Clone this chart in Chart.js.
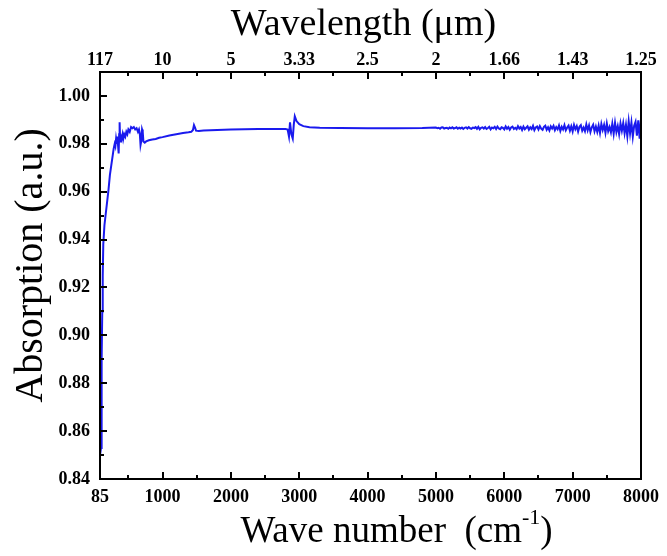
<!DOCTYPE html>
<html>
<head>
<meta charset="utf-8">
<title>Absorption spectrum</title>
<script src="https://cdn.jsdelivr.net/npm/chart.js@4/dist/chart.umd.min.js"></script>
<style>
  html, body { margin: 0; padding: 0; background: #fff; }
  canvas { display: block; }
</style>
</head>
<body>
<canvas id="spectrum" width="667" height="556"></canvas>
<script>
// measured spectrum: wave number (cm-1) and absorption (a.u.)
const waveNumber = [
  85, 100, 106, 112, 118, 125, 133, 150, 170, 190, 210, 230, 250, 270, 285, 300,
  310, 320, 330, 340, 350, 358, 365, 372, 380, 390, 400, 415, 425, 440, 455, 470, 485, 500,
  520, 540, 560, 580, 600, 620, 640, 655, 668, 678, 688, 700, 710, 720, 740, 760, 800, 850,
  900, 950, 1000, 1100, 1200, 1300, 1380, 1420, 1445, 1460, 1475, 1490, 1530, 1600, 1800,
  2000, 2200, 2400, 2600, 2800, 2830, 2850, 2865, 2885, 2905, 2920, 2935, 2960, 3000, 3060,
  3150, 3300, 3600, 4000, 4400, 4800,
  5000, 5020, 5040, 5060, 5080, 5100, 5120, 5140, 5160, 5180,
  5200, 5220, 5240, 5260, 5280, 5300, 5320, 5340, 5360, 5380,
  5400, 5420, 5440, 5460, 5480, 5500, 5520, 5540, 5560, 5580,
  5600, 5620, 5640, 5660, 5680, 5700, 5720, 5740, 5760, 5780,
  5800, 5820, 5840, 5860, 5880, 5900, 5920, 5940, 5960, 5980,
  6000, 6020, 6040, 6060, 6080, 6100, 6120, 6140, 6160, 6180,
  6200, 6220, 6240, 6260, 6280, 6300, 6320, 6340, 6360, 6380,
  6400, 6420, 6440, 6460, 6480, 6500, 6520, 6540, 6560, 6580,
  6600, 6620, 6640, 6660, 6680, 6700, 6720, 6740, 6760, 6780,
  6800, 6820, 6840, 6860, 6880, 6900, 6920, 6940, 6960, 6980,
  7000, 7020, 7040, 7060, 7080, 7100, 7120, 7140, 7160, 7180,
  7200, 7220, 7240, 7260, 7280, 7300, 7320, 7340, 7360, 7380,
  7400, 7420, 7440, 7460, 7480, 7500, 7520, 7540, 7560, 7580,
  7600, 7620, 7640, 7660, 7680, 7700, 7720, 7740, 7760, 7780,
  7800, 7820, 7840, 7860, 7880, 7900, 7920, 7940, 7960, 7980,
  8000
];
const absorption = [
  0.850, 0.853, 0.870, 0.890, 0.910, 0.925, 0.938, 0.946, 0.951, 0.956, 0.961, 0.967, 0.971, 0.975, 0.978, 0.980,
  0.979, 0.982, 0.980, 0.983, 0.979, 0.976, 0.984, 0.989, 0.981, 0.983, 0.982, 0.984, 0.982, 0.984, 0.983, 0.985, 0.984, 0.986,
  0.985, 0.987, 0.9865, 0.987, 0.986, 0.9865, 0.985, 0.986, 0.984, 0.9795, 0.981, 0.986, 0.985, 0.981, 0.9805, 0.981, 0.9815, 0.9818,
  0.982, 0.9825, 0.9828, 0.9835, 0.984, 0.9845, 0.9848, 0.985, 0.9858, 0.9878, 0.9868, 0.9855, 0.9854, 0.9856, 0.9858,
  0.986, 0.9861, 0.9862, 0.9862, 0.9862, 0.986, 0.983, 0.989, 0.984, 0.9822, 0.988, 0.9915, 0.9895, 0.9882, 0.9874,
  0.9869, 0.9867, 0.9866, 0.9865, 0.9865, 0.9866,
  0.9868, 0.9865, 0.9867, 0.9863, 0.9868, 0.9869, 0.9864, 0.9866, 0.9867, 0.9863,
  0.9868, 0.9865, 0.9869, 0.9864, 0.9866, 0.9869, 0.9863, 0.9867, 0.9864, 0.9868,
  0.9862, 0.9867, 0.9869, 0.9864, 0.9870, 0.9865, 0.9863, 0.9868, 0.9866, 0.9870,
  0.9863, 0.9871, 0.9861, 0.9867, 0.9869, 0.9864, 0.9870, 0.9862, 0.9866, 0.9871,
  0.9860, 0.9868, 0.9865, 0.9871, 0.9862, 0.9872, 0.9864, 0.9861, 0.9869, 0.9867,
  0.9860, 0.9873, 0.9863, 0.9870, 0.9859, 0.9868, 0.9872, 0.9862, 0.9867, 0.9861,
  0.9874, 0.9864, 0.9870, 0.9858, 0.9872, 0.9861, 0.9867, 0.9873, 0.9859, 0.9869,
  0.9862, 0.9875, 0.9857, 0.9868, 0.9872, 0.9860, 0.9874, 0.9863, 0.9858, 0.9871,
  0.9876, 0.9859, 0.9869, 0.9856, 0.9873, 0.9864, 0.9875, 0.9857, 0.9870, 0.9861,
  0.9877, 0.9854, 0.9871, 0.9860, 0.9878, 0.9857, 0.9868, 0.9876, 0.9855, 0.9873,
  0.9852, 0.9879, 0.9861, 0.9874, 0.9851, 0.9871, 0.9878, 0.9855, 0.9868, 0.9853,
  0.9881, 0.9857, 0.9877, 0.9849, 0.9869, 0.9880, 0.9852, 0.9872, 0.9850, 0.9876,
  0.9845, 0.9883, 0.9858, 0.9879, 0.9846, 0.9885, 0.9853, 0.9870, 0.9848, 0.9884,
  0.9842, 0.9888, 0.9849, 0.9874, 0.9840, 0.9885, 0.9855, 0.9887, 0.9844, 0.9880,
  0.9832, 0.9894, 0.9844, 0.9889, 0.9830, 0.9876, 0.9892, 0.9834, 0.9898, 0.9822,
  0.9904
];

// axis ticks
const waveTicks = [85, 1000, 2000, 3000, 4000, 5000, 6000, 7000, 8000];
const waveMinorTicks = [500, 1500, 2500, 3500, 4500, 5500, 6500, 7500];
const wavelengthLabels = ['117', '10', '5', '3.33', '2.5', '2', '1.66', '1.43', '1.25'];
const absTicks = [0.84, 0.86, 0.88, 0.90, 0.92, 0.94, 0.96, 0.98, 1.00];
const absMinorTicks = [0.85, 0.87, 0.89, 0.91, 0.93, 0.95, 0.97, 0.99];

const serif = '"Liberation Serif", "Times New Roman", serif';
const tickFont = { family: serif, size: 18, weight: 'bold', lineHeight: 1.2 };

// frame plus inward pointing tick marks on left, bottom and top
const frameTicks = {
  id: 'frameTicks',
  afterDraw(chart) {
    const ctx = chart.ctx;
    const a = chart.chartArea;
    const x = chart.scales.x;
    const y = chart.scales.y;
    ctx.save();
    ctx.strokeStyle = '#000';
    ctx.lineWidth = 2;
    ctx.strokeRect(a.left, a.top, a.right - a.left, a.bottom - a.top);
    ctx.beginPath();
    function xTick(v, len) {
      const px = Math.round(x.getPixelForValue(v));
      ctx.moveTo(px, a.bottom);
      ctx.lineTo(px, a.bottom - len);
      ctx.moveTo(px, a.top);
      ctx.lineTo(px, a.top + len);
    }
    function yTick(v, len) {
      const py = Math.round(y.getPixelForValue(v));
      ctx.moveTo(a.left, py);
      ctx.lineTo(a.left + len, py);
    }
    waveTicks.forEach(v => xTick(v, 7));
    waveMinorTicks.forEach(v => xTick(v, 4));
    absTicks.forEach(v => yTick(v, 7));
    absMinorTicks.forEach(v => yTick(v, 4));
    ctx.stroke();
    ctx.restore();
  }
};

// axis titles, drawn by hand so the superscript in cm-1 sits right
const axisTitles = {
  id: 'axisTitles',
  afterDraw(chart) {
    const ctx = chart.ctx;
    const a = chart.chartArea;
    const midX = (a.left + a.right) / 2;
    const midY = (a.top + a.bottom) / 2;
    ctx.save();
    ctx.fillStyle = '#000';
    ctx.textBaseline = 'middle';
    ctx.textAlign = 'center';

    ctx.font = '38px ' + serif;
    ctx.fillText('Wavelength (\u03bcm)', midX - 7, 25);

    // bottom: "Wave number  (cm" + raised "-1" + ")"
    const main = 'Wave number  (cm';
    ctx.font = '37px ' + serif;
    const wMain = ctx.measureText(main).width;
    const wClose = ctx.measureText(')').width;
    ctx.font = '22px ' + serif;
    const wSup = ctx.measureText('-1').width;
    let sx = midX + 26 - (wMain + wSup + wClose) / 2;
    ctx.textAlign = 'left';
    ctx.font = '37px ' + serif;
    ctx.fillText(main, sx, 532);
    ctx.font = '22px ' + serif;
    ctx.fillText('-1', sx + wMain, 518);
    ctx.font = '37px ' + serif;
    ctx.fillText(')', sx + wMain + wSup, 532);

    ctx.translate(31, midY - 10);
    ctx.rotate(-Math.PI / 2);
    ctx.textAlign = 'center';
    ctx.font = '40px ' + serif;
    ctx.fillText('Absorption (a.u.)', 0, 0);
    ctx.restore();
  }
};

new Chart(document.getElementById('spectrum'), {
  type: 'line',
  data: {
    datasets: [{
      label: 'Absorption',
      data: waveNumber.map((w, i) => ({ x: w, y: absorption[i] })),
      borderColor: '#1a1aee',
      borderWidth: 2,
      pointRadius: 0,
      tension: 0,
      fill: false
    }]
  },
  options: {
    responsive: false,
    animation: false,
    layout: { padding: { right: 19 } },
    plugins: {
      legend: { display: false },
      tooltip: { enabled: false }
    },
    scales: {
      x: {
        type: 'linear',
        position: 'bottom',
        min: 85,
        max: 8000,
        afterBuildTicks: s => { s.ticks = waveTicks.map(v => ({ value: v })); },
        afterFit: s => { s.height = 77; },
        grid: { display: false, drawTicks: false },
        border: { display: false },
        ticks: {
          color: '#000',
          padding: 8,
          maxRotation: 0,
          autoSkip: false,
          font: tickFont,
          callback: v => String(v)
        }
      },
      xTop: {
        type: 'linear',
        position: 'top',
        min: 85,
        max: 8000,
        afterBuildTicks: s => { s.ticks = waveTicks.map(v => ({ value: v })); },
        afterFit: s => { s.height = 72; },
        grid: { display: false, drawTicks: false },
        border: { display: false },
        ticks: {
          color: '#000',
          padding: 1,
          maxRotation: 0,
          autoSkip: false,
          font: tickFont,
          callback: (v, i) => wavelengthLabels[i]
        }
      },
      y: {
        min: 0.84,
        max: 1.01,
        afterBuildTicks: s => { s.ticks = absTicks.map(v => ({ value: v })); },
        afterFit: s => { s.width = 100; },
        grid: { display: false, drawTicks: false },
        border: { display: false },
        ticks: {
          color: '#000',
          padding: 10,
          font: tickFont,
          callback: v => v.toFixed(2)
        }
      }
    }
  },
  plugins: [frameTicks, axisTitles]
});
</script>
</body>
</html>
